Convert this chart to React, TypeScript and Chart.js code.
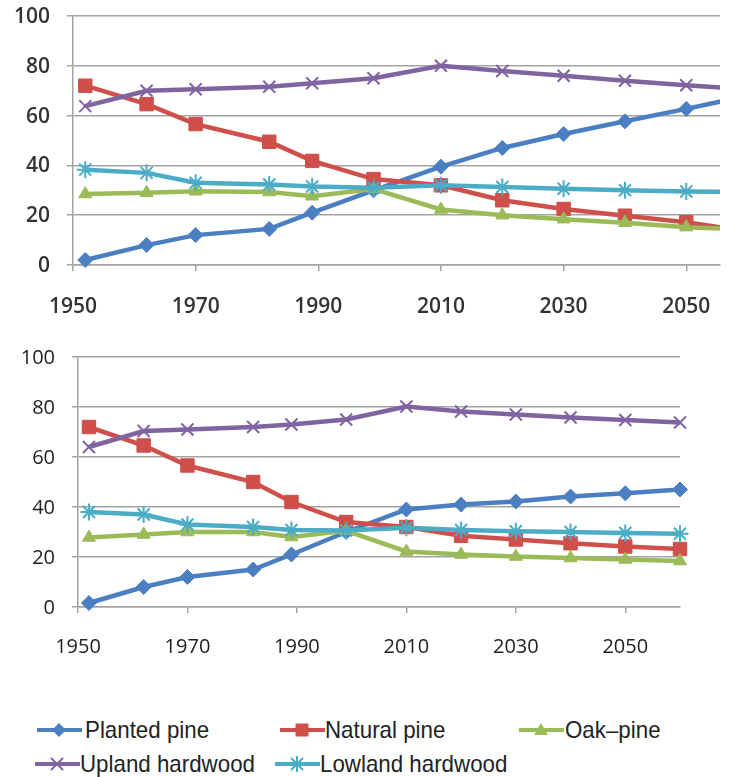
import React, { useEffect, useRef } from 'react';
import { Chart, registerables } from 'chart.js';

Chart.register(...registerables);

// ---------- data ----------
const YEARS = [1952, 1962, 1970, 1982, 1989, 1999, 2010, 2020, 2030, 2040, 2050, 2060];
const X_TICKS = [1950, 1970, 1990, 2010, 2030, 2050];

const SERIES_NAMES = ['Planted pine', 'Natural pine', 'Oak\u2013pine', 'Upland hardwood', 'Lowland hardwood'];

// upper panel
const TOP_PLANTED = [2, 8, 12, 14.5, 21, 30, 39.5, 47, 52.6, 57.7, 62.7, 68];
const TOP_NATURAL = [72, 64.6, 56.6, 49.5, 41.8, 34.5, 32, 26, 22.5, 19.8, 17.2, 13.5];
const TOP_OAK = [28.5, 29, 29.6, 29.3, 27.6, 30.5, 22.3, 20, 18.4, 17, 15.2, 14.2];
const TOP_UPLAND = [63.8, 70, 70.6, 71.6, 73, 75, 80, 77.9, 76, 74, 72.2, 70.5];
const TOP_LOWLAND = [38.3, 37, 33, 32.3, 31.5, 31, 32, 31.3, 30.6, 30, 29.5, 29.3];

// lower panel
const BOT_PLANTED = [1.6, 8, 12, 15, 21, 30, 39, 41, 42.2, 44.2, 45.5, 47];
const BOT_NATURAL = [72, 64.6, 56.6, 50, 42, 34, 32, 28.5, 27, 25.5, 24.2, 23.2];
const BOT_OAK = [27.8, 29, 30, 30, 28, 30.5, 22.2, 21, 20.2, 19.6, 19, 18.4];
const BOT_UPLAND = [64, 70.4, 71, 72, 73, 75, 80.2, 78.2, 77, 75.8, 74.8, 73.8];
const BOT_LOWLAND = [38, 37, 33, 32, 30.8, 30.6, 31.7, 30.8, 30.3, 30, 29.6, 29.3];

// ---------- styling ----------
const COLORS = ['#4a7fc2', '#cf4f4a', '#9bbb59', '#8064a2', '#4bacc6'];
const POINT_STYLES = ['rectRot', 'rect', 'triangle', 'crossRot', 'star'];
const POINT_RADII = [7.5, 9.5, 7.5, 8.5, 8.5];
const POINT_BW = [1, 1, 1, 2, 2];
const GRID = '#a3a3a3';

type PanelCfg = {
  values: number[][];
  xMax: number;
  yWidth: number;
  xHeight: number;
  padRight: number;
  padTop: number;
  clipRight: number;
  fontSize: number;
  fontWeight: string;
  xPad: number;
  tickColor: string;
};

function buildConfig(p: PanelCfg): any {
  const datasets = SERIES_NAMES.map((name, i) => ({
    label: name,
    data: YEARS.map((x, j) => ({ x, y: p.values[i][j] })),
    borderColor: COLORS[i],
    backgroundColor: COLORS[i],
    borderWidth: 4.5,
    pointStyle: POINT_STYLES[i],
    pointRadius: POINT_RADII[i],
    pointBackgroundColor: COLORS[i],
    pointBorderColor: COLORS[i],
    pointBorderWidth: POINT_BW[i],
    order: 5 - i,
    tension: 0,
    clip: { left: 12, top: 12, right: p.clipRight, bottom: 12 },
  }));
  const font = { family: "'Open Sans', 'Noto Sans', sans-serif", size: p.fontSize, weight: p.fontWeight, lineHeight: 1.2 };
  return {
    type: 'line',
    data: { datasets },
    options: {
      responsive: false,
      animation: false,
      devicePixelRatio: 1,
      layout: { padding: { left: 0, right: p.padRight, top: p.padTop, bottom: 0 } },
      plugins: { legend: { display: false }, tooltip: { enabled: false } },
      scales: {
        x: {
          type: 'linear',
          min: 1950,
          max: p.xMax,
          afterBuildTicks: (scale: any) => {
            scale.ticks = X_TICKS.map((v) => ({ value: v }));
          },
          afterFit: (scale: any) => {
            scale.height = p.xHeight;
            scale.paddingLeft = 0;
            scale.paddingRight = 0;
          },
          grid: { drawOnChartArea: false, drawTicks: true, tickLength: 6, color: GRID, lineWidth: 1.5 },
          border: { display: true, color: GRID, width: 1.5 },
          ticks: {
            autoSkip: false,
            maxRotation: 0,
            padding: p.xPad,
            color: p.tickColor,
            font,
            callback: (v: any) => String(v),
          },
        },
        y: {
          min: 0,
          max: 100,
          afterFit: (scale: any) => {
            scale.width = p.yWidth;
            scale.paddingTop = 0;
            scale.paddingBottom = 0;
          },
          grid: { color: GRID, lineWidth: 1.5, tickLength: 6 },
          border: { display: true, color: GRID, width: 1.5 },
          ticks: { stepSize: 20, padding: 17, color: p.tickColor, font, labelOffset: 1 },
        },
      },
    },
  };
}

function Panel(props: { cfg: PanelCfg; top: number; width: number; height: number }) {
  const ref = useRef<HTMLCanvasElement | null>(null);
  useEffect(() => {
    if (!ref.current) return;
    const chart = new Chart(ref.current, buildConfig(props.cfg));
    return () => chart.destroy();
  }, []);
  return (
    <canvas
      ref={ref}
      width={props.width}
      height={props.height}
      style={{ position: 'absolute', left: 0, top: props.top, width: props.width, height: props.height, display: 'block' }}
    />
  );
}

function LegendSymbol({ i }: { i: number }) {
  const c = COLORS[i];
  const cx = 22;
  const cy = 10;
  let marker: any = null;
  if (i === 0) marker = <polygon points={`${cx},${cy - 7} ${cx + 7},${cy} ${cx},${cy + 7} ${cx - 7},${cy}`} fill={c} />;
  else if (i === 1) marker = <rect x={cx - 6.5} y={cy - 6.5} width={13} height={13} fill={c} />;
  else if (i === 2) marker = <polygon points={`${cx},${cy - 7} ${cx + 7},${cy + 5} ${cx - 7},${cy + 5}`} fill={c} />;
  else if (i === 3)
    marker = (
      <g stroke={c} strokeWidth={2}>
        <line x1={cx - 6} y1={cy - 6} x2={cx + 6} y2={cy + 6} />
        <line x1={cx - 6} y1={cy + 6} x2={cx + 6} y2={cy - 6} />
      </g>
    );
  else
    marker = (
      <g stroke={c} strokeWidth={2}>
        <line x1={cx - 6} y1={cy - 6} x2={cx + 6} y2={cy + 6} />
        <line x1={cx - 6} y1={cy + 6} x2={cx + 6} y2={cy - 6} />
        <line x1={cx} y1={cy - 8} x2={cx} y2={cy + 8} />
      </g>
    );
  return (
    <svg width={45} height={20} style={{ display: 'block' }}>
      <line x1={0} y1={cy} x2={45} y2={cy} stroke={c} strokeWidth={4} />
      {marker}
    </svg>
  );
}

const LEGEND_POS = [
  { sx: 37, tx: 85, y: 730 },
  { sx: 280, tx: 325, y: 730 },
  { sx: 519, tx: 565, y: 730 },
  { sx: 35, tx: 80, y: 764 },
  { sx: 275, tx: 320, y: 764 },
];

export default function App() {
  const topCfg: PanelCfg = {
    values: [TOP_PLANTED, TOP_NATURAL, TOP_OAK, TOP_UPLAND, TOP_LOWLAND],
    xMax: 2055.5,
    yWidth: 73,
    xHeight: 65,
    padRight: 13,
    padTop: 16,
    clipRight: 0,
    fontSize: 21,
    fontWeight: '600',
    xPad: 23,
    tickColor: '#333333',
  };
  const botCfg: PanelCfg = {
    values: [BOT_PLANTED, BOT_NATURAL, BOT_OAK, BOT_UPLAND, BOT_LOWLAND],
    xMax: 2060,
    yWidth: 78,
    xHeight: 68,
    padRight: 53,
    padTop: 22,
    clipRight: 12,
    fontSize: 20,
    fontWeight: '400',
    xPad: 22,
    tickColor: '#222222',
  };
  return (
    <div style={{ position: 'absolute', left: 0, top: 0, width: 733, height: 777, background: '#fff', overflow: 'hidden' }}>
      <Panel cfg={topCfg} top={0} width={733} height={330} />
      <Panel cfg={botCfg} top={335} width={733} height={340} />
      {SERIES_NAMES.map((name, i) => (
        <React.Fragment key={name}>
          <div style={{ position: 'absolute', left: LEGEND_POS[i].sx, top: LEGEND_POS[i].y - 10 }}>
            <LegendSymbol i={i} />
          </div>
          <div
            style={{
              position: 'absolute',
              left: LEGEND_POS[i].tx,
              top: LEGEND_POS[i].y - 16,
              height: 32,
              lineHeight: '32px',
              fontFamily: "'Liberation Sans', Arial, sans-serif",
              fontSize: 24,
              color: '#222',
              whiteSpace: 'nowrap',
              transform: 'scaleX(0.93)',
              transformOrigin: 'left center',
            }}
          >
            {name}
          </div>
        </React.Fragment>
      ))}
    </div>
  );
}
